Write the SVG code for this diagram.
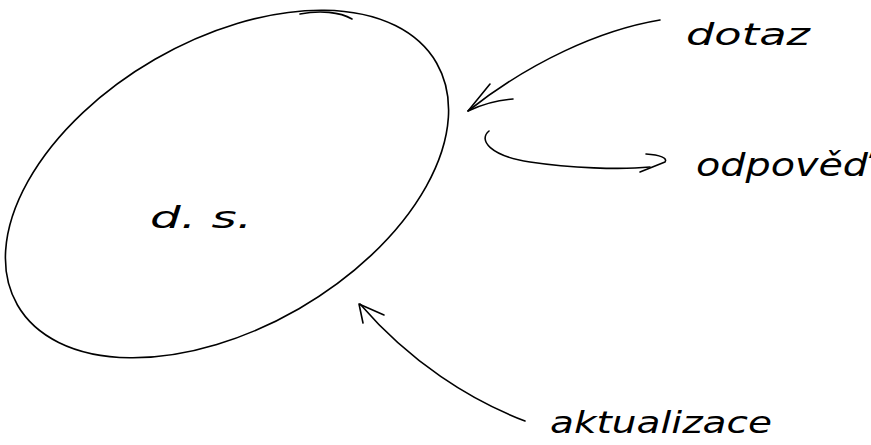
<svg xmlns="http://www.w3.org/2000/svg" width="871" height="445" viewBox="0 0 871 445">
<style>
.ln{fill:none;stroke:#000;stroke-width:1.6;stroke-linecap:round;stroke-linejoin:round}
.t{font-family:"DejaVu Sans","Liberation Sans",sans-serif;font-style:italic;font-weight:300;fill:#000}
</style>
<rect width="871" height="445" fill="#fff"/>
<g id="node-ds">
<ellipse class="ln" cx="227" cy="184" rx="242" ry="144" transform="rotate(-30 227 184)"/>
<path class="ln" d="M300,14 C320,10 340,12 352,19"/>
<text class="t" x="150" y="228" font-size="30" textLength="102" lengthAdjust="spacingAndGlyphs">d. s.</text>
</g>
<g id="node-dotaz">
<text class="t" x="686" y="45" font-size="30" textLength="124" lengthAdjust="spacingAndGlyphs">dotaz</text>
</g>
<g id="node-odpoved">
<text class="t" x="696" y="176" font-size="32" textLength="172" lengthAdjust="spacingAndGlyphs">odpověď</text>
</g>
<g id="node-aktualizace">
<text class="t" x="550" y="433" font-size="30" textLength="222" lengthAdjust="spacingAndGlyphs">aktualizace</text>
</g>
<g id="connectors">
<path class="ln" d="M660,20 C600,30 530,62 468,111"/>
<path class="ln" d="M490,84 L468,111 C485,103 498,100 513,99"/>
<path class="ln" d="M489,131 C478,140 490,156 530,162 C570,168 620,170 650,167"/>
<path class="ln" d="M646,154 C660,155 668,158 665,162 L640,172"/>
<path class="ln" d="M525,421 C470,400 410,362 360,304"/>
<path class="ln" d="M363,323 L359,304 L384,315"/>
</g>
</svg>
